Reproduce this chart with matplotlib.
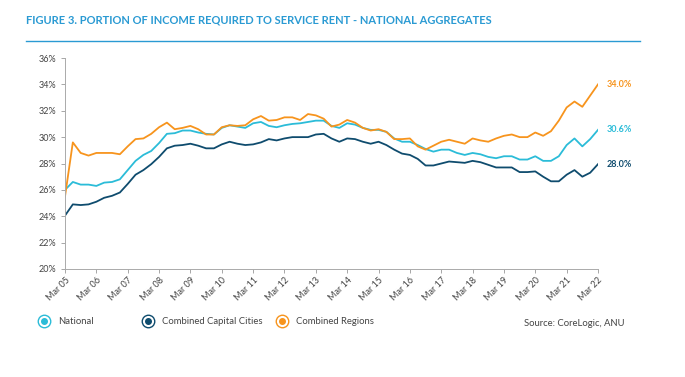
import matplotlib
matplotlib.use("Agg")
import matplotlib.pyplot as plt
from matplotlib.lines import Line2D
from matplotlib.ticker import FuncFormatter

plt.rcParams["font.family"] = ["Lato", "DejaVu Sans"]

years = ["Mar %02d" % y for y in range(5, 23)]

national = [
    26.0, 26.6, 26.4, 26.4, 26.3, 26.55, 26.6, 26.8, 27.5, 28.2, 28.65, 28.95,
    29.55, 30.25, 30.3, 30.5, 30.5, 30.35, 30.25, 30.2, 30.7, 30.9, 30.8, 30.7,
    31.05, 31.15, 30.85, 30.75, 30.9, 31.0, 31.05, 31.15, 31.25, 31.25, 30.85, 30.7,
    31.05, 30.95, 30.7, 30.55, 30.55, 30.4, 29.9, 29.65, 29.65, 29.4, 29.1, 28.9,
    29.05, 29.05, 28.8, 28.65, 28.8, 28.7, 28.5, 28.4, 28.55, 28.55, 28.3, 28.3,
    28.55, 28.2, 28.2, 28.55, 29.4, 29.9, 29.3, 29.85, 30.55,
]
capitals = [
    24.05, 24.9, 24.85, 24.9, 25.1, 25.4, 25.55, 25.8, 26.45, 27.15, 27.5, 27.95,
    28.5, 29.15, 29.35, 29.4, 29.5, 29.35, 29.15, 29.15, 29.45, 29.65, 29.5, 29.4,
    29.45, 29.6, 29.85, 29.75, 29.9, 30.0, 30.0, 30.0, 30.2, 30.25, 29.9, 29.65,
    29.9, 29.85, 29.65, 29.5, 29.65, 29.4, 29.05, 28.75, 28.65, 28.35, 27.85, 27.85,
    28.0, 28.15, 28.1, 28.05, 28.2, 28.1, 27.9, 27.7, 27.7, 27.7, 27.35, 27.35,
    27.4, 27.0, 26.65, 26.65, 27.15, 27.5, 27.0, 27.3, 27.95,
]
regions = [
    25.5, 29.6, 28.8, 28.6, 28.8, 28.8, 28.8, 28.7, 29.3, 29.85, 29.9, 30.25,
    30.75, 31.1, 30.6, 30.7, 30.85, 30.6, 30.2, 30.2, 30.75, 30.9, 30.85, 30.9,
    31.35, 31.6, 31.25, 31.3, 31.5, 31.5, 31.3, 31.75, 31.65, 31.4, 30.8, 30.95,
    31.3, 31.1, 30.7, 30.5, 30.6, 30.4, 29.85, 29.85, 29.9, 29.3, 29.05, 29.35,
    29.65, 29.8, 29.65, 29.5, 29.9, 29.75, 29.65, 29.9, 30.1, 30.2, 30.0, 30.0,
    30.35, 30.1, 30.45, 31.25, 32.25, 32.7, 32.3, 33.15, 34.0,
]
end_labels = ["30.6%", "28.0%", "34.0%"]
series_names = ["National", "Combined Capital Cities", "Combined Regions"]

c_nat = "#2BBCD8"
c_cap = "#0F4C6E"
c_reg = "#F7941D"
blue = "#2A9AD3"
grey = "#444444"

fig = plt.figure(figsize=(6.85, 3.77), dpi=100)
ax = fig.add_axes([65 / 685, 1 - 269 / 377, 533 / 685, 211 / 377])

x = list(range(len(national)))
ax.plot(x, capitals, color=c_cap, lw=1.3)
ax.plot(x, national, color=c_nat, lw=1.3)
ax.plot(x, regions, color=c_reg, lw=1.3)

ax.set_xlim(0, len(national) - 1)
ax.set_ylim(20, 36)
ax.set_yticks(range(20, 37, 2))
ax.yaxis.set_major_formatter(FuncFormatter(lambda v, p: "%d%%" % v))
ax.set_xticks(range(0, len(national), 4))
ax.set_xticklabels(years, rotation=45, ha="right", rotation_mode="anchor")
ax.tick_params(axis="both", labelsize=6.5, colors="#999999", labelcolor=grey,
               length=3, width=0.6, direction="out")
ax.tick_params(axis="x", pad=2)
for s in ["top", "right"]:
    ax.spines[s].set_visible(False)
for s in ["left", "bottom"]:
    ax.spines[s].set_color("#aaaaaa")
    ax.spines[s].set_linewidth(0.7)

for series, lab, col in zip([national, capitals, regions], end_labels, [c_nat, c_cap, c_reg]):
    ax.annotate(lab, (x[-1], series[-1]), xytext=(6, 0), textcoords="offset points",
                color=col, fontsize=6.5, fontweight="bold", va="center", annotation_clip=False)

# title and rule
fig.text(26 / 685, 1 - 20 / 377, "FIGURE 3. PORTION OF INCOME REQUIRED TO SERVICE RENT - NATIONAL AGGREGATES",
         color=blue, fontsize=8, fontweight="bold", va="center", ha="left")
fig.add_artist(Line2D([26 / 685, 640 / 685], [1 - 41 / 377, 1 - 41 / 377], color=blue, lw=1.0))

# legend: one entry per anchor so the spacing can follow the reference
legend_x = [38, 142, 276]
for name, col, lx in zip(series_names, [c_nat, c_cap, c_reg], legend_x):
    ring = Line2D([], [], ls="none", marker="o", ms=9, mfc="white", mec=col, mew=1.0)
    dot = Line2D([], [], ls="none", marker="o", ms=4, mfc=col, mec=col)
    leg = fig.legend([(ring, dot)], [name], loc="center left",
                     bbox_to_anchor=(lx / 685, 1 - 322 / 377), frameon=False,
                     fontsize=6.8, labelcolor=grey, handlelength=1.2, handletextpad=0.9,
                     borderaxespad=0, borderpad=0)
fig.text(625 / 685, 1 - 323 / 377, "Source: CoreLogic, ANU", color=grey, fontsize=6.8,
         ha="right", va="center")

fig.savefig("out.png", dpi=100)
